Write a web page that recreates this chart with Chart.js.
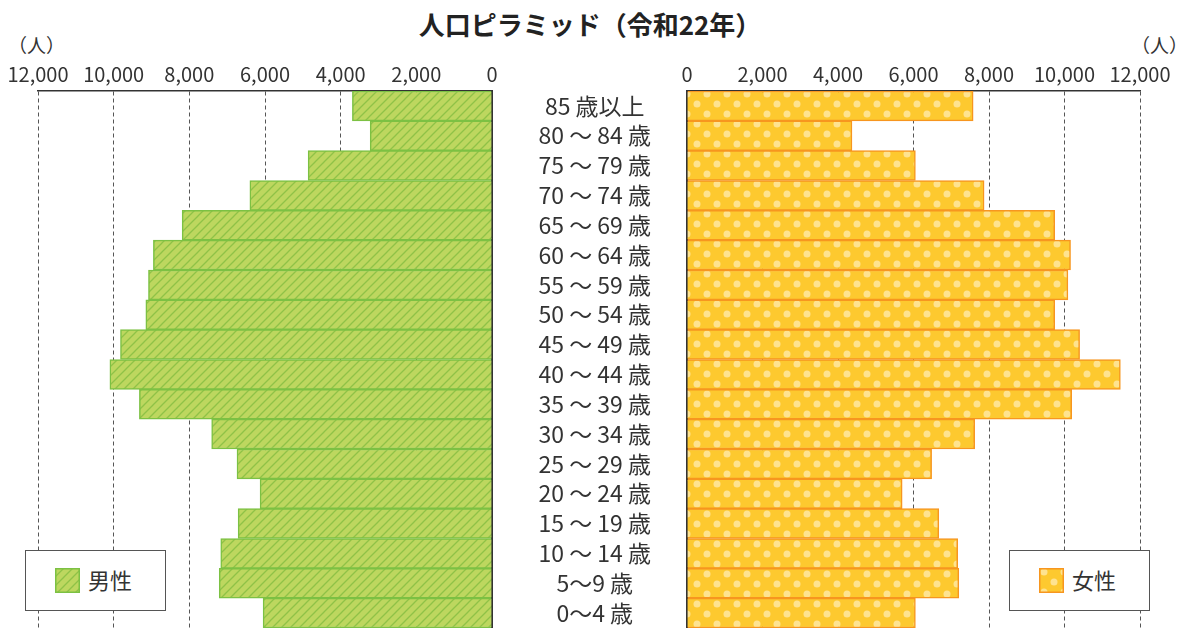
<!DOCTYPE html>
<html lang="ja">
<head>
<meta charset="utf-8">
<script src="https://cdn.jsdelivr.net/npm/chart.js@4"></script>
<style>
  body { margin: 0; background: #fff; font-family: "Noto Sans CJK JP", "Noto Sans", sans-serif; color: #333; }
  #wrap { position: relative; width: 1181px; height: 628px; overflow: hidden; }
  #title { position: absolute; left: 0; top: 5px; width: 1180px; text-align: center; font-size: 26px; font-weight: bold; color: #222; }
  .unit { position: absolute; top: 31px; font-size: 19px; }
  #maleBox { position: absolute; left: 0; top: 0; }
  #femaleBox { position: absolute; left: 492px; top: 0; }
  .legend { position: absolute; top: 550px; width: 139px; height: 59px; border: 1px solid #555; background: #fff; }
  .legend canvas { position: absolute; left: 29px; top: 17px; }
  .legend span { position: absolute; left: 62px; top: 12px; font-size: 22px; }
</style>
</head>
<body>
<div id="wrap">
  <div id="title">人口ピラミッド（令和22年）</div>
  <div class="unit" style="left:8px">（人）</div>
  <div class="unit" style="left:1131px">（人）</div>
  <div id="maleBox"><canvas id="maleChart" width="500" height="628"></canvas></div>
  <div id="femaleBox"><canvas id="femaleChart" width="689" height="628"></canvas></div>
  <div class="legend" style="left:25px"><canvas id="maleKey" width="25" height="25"></canvas><span>男性</span></div>
  <div class="legend" style="left:1009px"><canvas id="femaleKey" width="25" height="25"></canvas><span>女性</span></div>
</div>
<script>
// 年齢階級（上から）
const ageLabels = ['85 歳以上', '80 ～ 84 歳', '75 ～ 79 歳', '70 ～ 74 歳', '65 ～ 69 歳', '60 ～ 64 歳',
  '55 ～ 59 歳', '50 ～ 54 歳', '45 ～ 49 歳', '40 ～ 44 歳', '35 ～ 39 歳', '30 ～ 34 歳',
  '25 ～ 29 歳', '20 ～ 24 歳', '15 ～ 19 歳', '10 ～ 14 歳', '5～9 歳', '0～4 歳'];
const maleValues = [3690, 3220, 4860, 6400, 8190, 8950, 9080, 9150, 9820, 10100, 9320, 7410, 6740, 6130, 6710, 7170, 7210, 6050];
const femaleValues = [7580, 4370, 6050, 7870, 9740, 10160, 10090, 9740, 10400, 11480, 10190, 7620, 6480, 5700, 6670, 7170, 7200, 6050];
const xTicks = [0, 2000, 4000, 6000, 8000, 10000, 12000];

const FONT = '"Noto Sans CJK JP", "Noto Sans", sans-serif';

// 斜線パターン（男性）
function hatchPattern(ctx) {
  const c = document.createElement('canvas');
  c.width = 9; c.height = 9;
  const p = c.getContext('2d');
  p.fillStyle = '#bdd75f';
  p.fillRect(0, 0, 9, 9);
  p.strokeStyle = '#8fc247';
  p.lineWidth = 1.3;
  p.beginPath();
  p.moveTo(-1, 10); p.lineTo(10, -1);
  p.moveTo(-1, 1); p.lineTo(1, -1);
  p.moveTo(8, 10); p.lineTo(10, 8);
  p.stroke();
  return ctx.createPattern(c, 'repeat');
}

// 水玉パターン（女性）
function dotPattern(ctx) {
  const c = document.createElement('canvas');
  c.width = 20; c.height = 20;
  const p = c.getContext('2d');
  p.fillStyle = '#fdc92f';
  p.fillRect(0, 0, 20, 20);
  p.fillStyle = '#fee390';
  [[5, 4], [15, 14]].forEach(([x, y]) => {
    p.beginPath(); p.arc(x, y, 3.5, 0, Math.PI * 2); p.fill();
  });
  return ctx.createPattern(c, 'repeat');
}

function xAxis(reverse) {
  return {
    position: 'top',
    reverse: reverse,
    min: 0,
    max: 12000,
    afterBuildTicks: s => { s.ticks = xTicks.map(v => ({ value: v })); },
    afterFit: s => { s.height = 30; },
    ticks: {
      color: '#333',
      padding: 5,
      maxRotation: 0,
      font: { family: FONT, size: 20 },
      callback: v => v.toLocaleString('en-US')
    },
    grid: {
      drawTicks: false,
      lineWidth: 1,
      color: c => c.tick && c.tick.value === 0 ? 'rgba(0,0,0,0)' : '#555'
    },
    border: { display: true, color: '#333', width: 1.5, dash: [4, 3] }
  };
}

function makeChart(id, values, fill, edge, male) {
  const ctx = document.getElementById(id).getContext('2d');
  return new Chart(ctx, {
    type: 'bar',
    data: {
      labels: ageLabels,
      datasets: [{
        data: values,
        backgroundColor: fill,
        borderColor: edge,
        borderWidth: 1.5,
        barPercentage: 1,
        categoryPercentage: 1
      }]
    },
    options: {
      indexAxis: 'y',
      responsive: false,
      devicePixelRatio: 1,
      animation: false,
      layout: { padding: male ? { left: 38, right: 8, top: 61, bottom: 0 } : { left: 0, right: 41, top: 61, bottom: 0 } },
      plugins: { legend: { display: false }, tooltip: { enabled: false } },
      scales: {
        x: xAxis(male),
        y: {
          position: male ? 'right' : 'left',
          afterFit: s => {
            s.width = male ? 0 : 195;
            s.paddingTop = 0;
            s.paddingBottom = 0;
          },
          grid: { display: false, drawTicks: false },
          border: { display: true, color: '#333', width: 2 },
          ticks: {
            display: !male,
            autoSkip: false,
            crossAlign: 'center',
            padding: 36,
            color: '#333',
            font: { family: FONT, size: 23 }
          }
        }
      }
    }
  });
}

const mctx = document.getElementById('maleChart').getContext('2d');
const fctx = document.getElementById('femaleChart').getContext('2d');
makeChart('maleChart', maleValues, hatchPattern(mctx), '#7cc143', true);
makeChart('femaleChart', femaleValues, dotPattern(fctx), '#f7961f', false);

// 凡例の見本
function swatch(id, pat, edge) {
  const k = document.getElementById(id).getContext('2d');
  k.fillStyle = pat(k);
  k.fillRect(0.5, 0.5, 24, 24);
  k.strokeStyle = edge;
  k.lineWidth = 1.5;
  k.strokeRect(0.75, 0.75, 23.5, 23.5);
}
swatch('maleKey', hatchPattern, '#7cc143');
swatch('femaleKey', dotPattern, '#f7961f');
</script>
</body>
</html>
